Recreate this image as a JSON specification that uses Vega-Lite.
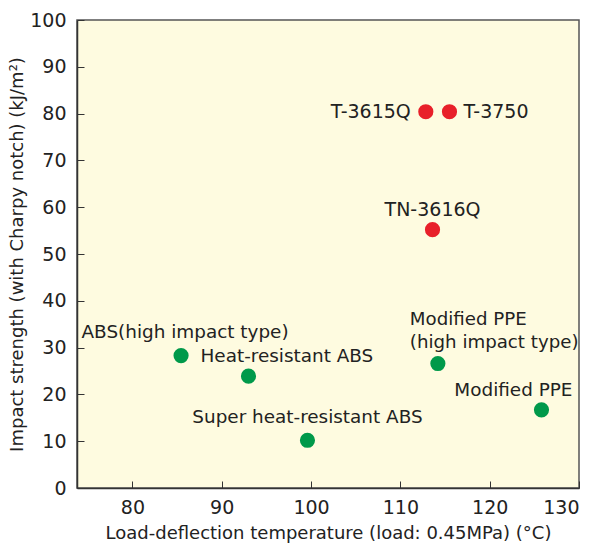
{
  "$schema": "https://vega.github.io/schema/vega-lite/v6.json",
  "width": 502,
  "height": 468,
  "padding": {"left": 77, "top": 20, "right": 20, "bottom": 56},
  "autosize": {"type": "none"},
  "background": "white",
  "config": {
    "font": "DejaVu Sans",
    "view": {"fill": "#fefbe0", "stroke": "#555555", "strokeWidth": 1.5}
  },
  "data": {
    "values": [
      {"name": "ABS(high impact type)", "temp": 85.45, "impact": 28.3, "group": "other"},
      {"name": "Heat-resistant ABS", "temp": 93.0, "impact": 23.9, "group": "other"},
      {"name": "Super heat-resistant ABS", "temp": 99.6, "impact": 10.2, "group": "other"},
      {"name": "Modified PPE (high impact type)", "temp": 114.2, "impact": 26.6, "group": "other"},
      {"name": "Modified PPE", "temp": 125.8, "impact": 16.7, "group": "other"},
      {"name": "T-3615Q", "temp": 112.85, "impact": 80.4, "group": "ours"},
      {"name": "T-3750", "temp": 115.5, "impact": 80.4, "group": "ours"},
      {"name": "TN-3616Q", "temp": 113.6, "impact": 55.2, "group": "ours"}
    ]
  },
  "encoding": {
    "x": {
      "field": "temp", "type": "quantitative",
      "scale": {"domain": [73.8, 130], "nice": false, "zero": false},
      "axis": {
        "title": "Load-deflection temperature (load: 0.45MPa) (°C)",
        "values": [80, 90, 100, 110, 120, 130],
        "grid": false, "domainColor": "#333333", "domainWidth": 1.5,
        "tickColor": "#333333", "tickSize": -7, "tickWidth": 1,
        "labelFontSize": 19, "labelColor": "#222222", "labelPadding": 17,
        "titleFontSize": 18, "titleFontWeight": "normal", "titleColor": "#222222", "titlePadding": 7
      }
    },
    "y": {
      "field": "impact", "type": "quantitative",
      "scale": {"domain": [0, 100], "nice": false},
      "axis": {
        "title": "Impact strength (with Charpy notch) (kJ/m²)",
        "values": [0, 10, 20, 30, 40, 50, 60, 70, 80, 90, 100],
        "grid": false, "domainColor": "#333333", "domainWidth": 1.5,
        "tickColor": "#333333", "tickSize": -7, "tickWidth": 1,
        "labelFontSize": 19, "labelColor": "#222222", "labelPadding": 18,
        "titleFontSize": 18, "titleFontWeight": "normal", "titleColor": "#222222", "titlePadding": 3
      }
    }
  },
  "layer": [
    {
      "mark": {"type": "circle", "size": 230, "opacity": 1},
      "encoding": {
        "color": {
          "field": "group", "type": "nominal",
          "scale": {"domain": ["ours", "other"], "range": ["#e8202a", "#00994a"]},
          "legend": null
        }
      }
    },
    {
      "transform": [{"filter": "datum.name == 'T-3615Q'"}],
      "mark": {"type": "text", "align": "right", "baseline": "middle", "dx": -15, "fontSize": 19, "color": "#222222"},
      "encoding": {"text": {"field": "name"}}
    },
    {
      "transform": [{"filter": "datum.name == 'T-3750'"}],
      "mark": {"type": "text", "align": "left", "baseline": "middle", "dx": 14, "fontSize": 19, "color": "#222222"},
      "encoding": {"text": {"field": "name"}}
    },
    {
      "transform": [{"filter": "datum.name == 'TN-3616Q'"}],
      "mark": {"type": "text", "align": "center", "baseline": "middle", "dy": -20, "fontSize": 19, "color": "#222222"},
      "encoding": {"text": {"field": "name"}}
    },
    {
      "transform": [{"filter": "datum.name == 'ABS(high impact type)'"}],
      "mark": {"type": "text", "align": "center", "baseline": "middle", "dx": 4, "dy": -24, "fontSize": 18.4, "color": "#222222"},
      "encoding": {"text": {"field": "name"}}
    },
    {
      "transform": [{"filter": "datum.name == 'Heat-resistant ABS'"}],
      "mark": {"type": "text", "align": "left", "baseline": "middle", "dx": -48, "dy": -20, "fontSize": 18.4, "color": "#222222"},
      "encoding": {"text": {"field": "name"}}
    },
    {
      "transform": [{"filter": "datum.name == 'Super heat-resistant ABS'"}],
      "mark": {"type": "text", "align": "center", "baseline": "middle", "dy": -23, "fontSize": 18.4, "color": "#222222"},
      "encoding": {"text": {"field": "name"}}
    },
    {
      "transform": [{"filter": "datum.name == 'Modified PPE (high impact type)'"}],
      "mark": {"type": "text", "align": "left", "baseline": "middle", "dx": -28, "dy": -44, "fontSize": 18.2, "color": "#222222", "lineHeight": 23},
      "encoding": {"text": {"value": ["Modified PPE", "(high impact type)"]}}
    },
    {
      "transform": [{"filter": "datum.name == 'Modified PPE'"}],
      "mark": {"type": "text", "align": "right", "baseline": "middle", "dx": 31, "dy": -20, "fontSize": 18.4, "color": "#222222"},
      "encoding": {"text": {"field": "name"}}
    }
  ]
}
